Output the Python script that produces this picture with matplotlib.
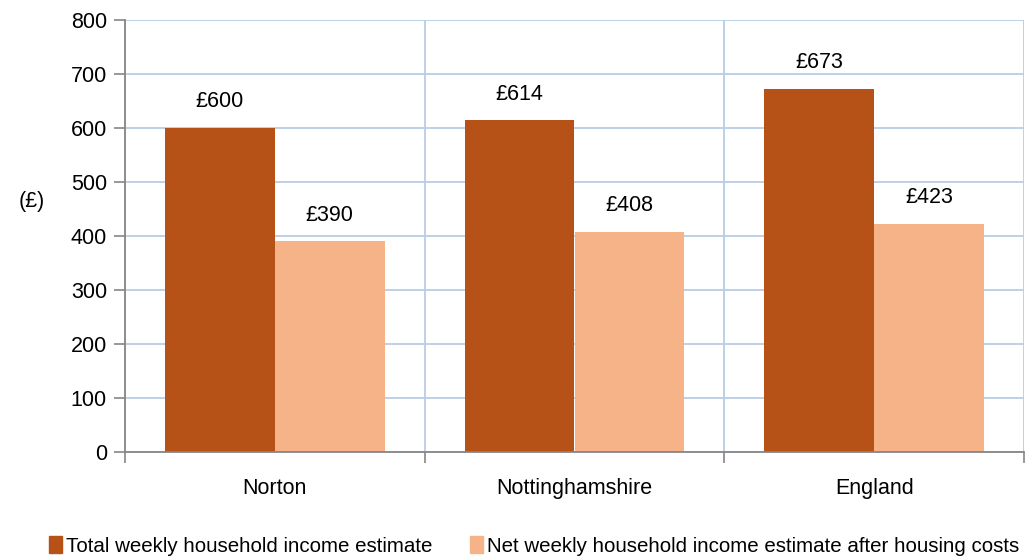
import matplotlib
matplotlib.use("Agg")
import matplotlib.pyplot as plt
from matplotlib.patches import Patch
import numpy as np

categories = ["Norton", "Nottinghamshire", "England"]
total_income = [600, 614, 673]
net_income = [390, 408, 423]
series_names = ["Total weekly household income estimate",
                "Net weekly household income estimate after housing costs"]
yticks = [0, 100, 200, 300, 400, 500, 600, 700, 800]

dark = "#B65118"
light = "#F6B388"
grid_c = "#B9CDE5"
axis_c = "#868686"

plt.rcParams['font.family'] = ['Liberation Sans', 'DejaVu Sans']
fs = 15.5

fig = plt.figure(figsize=(10.29, 5.56), dpi=100)
ax = fig.add_axes([125/1029, (556-452)/556, (1024-125)/1029, (452-20)/556])

centers = np.arange(len(categories)) + 0.5
w = 110/300
b1 = ax.bar(centers - w/2, total_income, width=w, color=dark, zorder=3)
b2 = ax.bar(centers + w/2, net_income, width=w, color=light, zorder=3)

for bars, vals in ((b1, total_income), (b2, net_income)):
    for r, v in zip(bars, vals):
        ax.annotate(f"£{v}", (r.get_x() + r.get_width()/2, v), xytext=(0, 19),
                    textcoords="offset points", ha="center", va="center", fontsize=fs)

ax.set_xlim(0, 3)
ax.set_ylim(0, 800)
ax.set_yticks(yticks)
ax.set_xticks([0, 1, 2, 3])
ax.set_xticklabels([])
ax.set_xticks(centers, minor=True)
ax.set_xticklabels(categories, minor=True, fontsize=fs)
ax.tick_params(axis='x', which='minor', length=0, pad=19)
ax.tick_params(axis='x', which='major', length=8, color=axis_c, width=1.2)
ax.tick_params(axis='y', length=8, color=axis_c, width=1.2, labelsize=fs, pad=5)

ax.grid(True, which='major', axis='both', color=grid_c, linewidth=1.3, zorder=0)
ax.set_axisbelow(True)
for s in ("top", "right"):
    ax.spines[s].set_visible(False)
for s in ("left", "bottom"):
    ax.spines[s].set_color(axis_c)
    ax.spines[s].set_linewidth(1.3)
    ax.spines[s].set_zorder(4)

ax.set_ylabel("(£)", rotation=0, fontsize=fs, labelpad=0)
ax.yaxis.set_label_coords(-0.104, 0.555)

handles = [Patch(color=dark), Patch(color=light)]
fig.legend(handles, series_names, loc="center", bbox_to_anchor=(534/1029, 1-546/556),
           ncol=2, frameon=False, fontsize=14.8, handlelength=0.67, handleheight=0.85,
           handletextpad=0.19, columnspacing=1.8, borderaxespad=0)

fig.savefig("out.png", dpi=100)
